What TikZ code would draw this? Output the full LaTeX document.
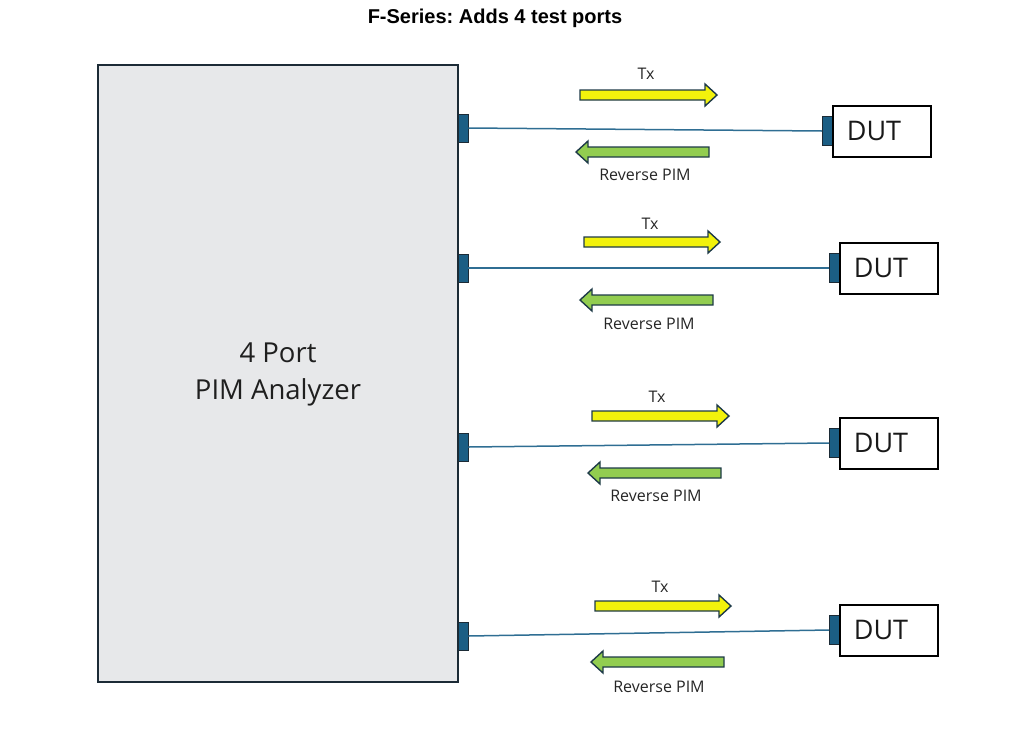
\documentclass[tikz,border=0pt]{standalone}
\usepackage{fontspec}
\setmainfont{Liberation Sans}
\newfontfamily\bodyfont{Open Sans}
\frenchspacing
\definecolor{boxgray}{HTML}{E7E8EA}
\definecolor{edge}{HTML}{1C2B36}
\definecolor{portblue}{HTML}{1B5E84}
\definecolor{cable}{HTML}{2F6E93}
\definecolor{txyellow}{HTML}{F2F20C}
\definecolor{revgreen}{HTML}{92CD50}
\definecolor{arredge}{HTML}{1E3A48}
\tikzset{
  analyzer/.style={draw=edge, fill=boxgray, line width=1.8pt},
  port/.style={draw=edge, fill=portblue, line width=0.8pt},
  dutbox/.style={draw=black, fill=white, line width=2pt},
  cableline/.style={draw=cable, line width=1.5pt},
  fatarrow/.style={draw=arredge, line width=1.4pt, line join=miter},
  small/.style={font=\bodyfont\fontsize{16}{18}\selectfont, text=black!85},
}
% right-pointing arrow: tail x, tip x, centre y
\newcommand{\rarrow}[4]{%
  \path[fatarrow, fill=#4] (#1,#3-5) -- (#2-12,#3-5) -- (#2-12,#3-11) -- (#2,#3) -- (#2-12,#3+11) -- (#2-12,#3+5) -- (#1,#3+5) -- cycle;}
\newcommand{\larrow}[4]{%
  \path[fatarrow, fill=#4] (#1,#3-5) -- (#2+12,#3-5) -- (#2+12,#3-11) -- (#2,#3) -- (#2+12,#3+11) -- (#2+12,#3+5) -- (#1,#3+5) -- cycle;}
\begin{document}
\begin{tikzpicture}[x=1pt,y=-1pt]
\useasboundingbox (0,0) rectangle (1024,750);
\node (title) at (495,18) {\fontsize{20}{23}\selectfont\bfseries F-Series: Adds 4 test ports};
% analyzer
\path[analyzer] (98,65) rectangle (458,682);
\node (ana) [align=center, font=\bodyfont\fontsize{27.5}{37}\selectfont, text=black!88] at (278,374) {4 Port\\PIM Analyzer};
% ports on analyzer
\foreach \n/\y in {1/128,2/268,3/447,4/636}{
  \node (p\n) [port, minimum width=10pt, minimum height=28pt, inner sep=0pt] at (463,\y) {};
}
% DUTs
\foreach \n/\xp/\y in {1/822/131,2/829/268,3/829/443,4/829/630}{
  \node (dp\n) [port, minimum width=10pt, minimum height=29pt, inner sep=0pt, anchor=west] at (\xp,\y) {};
  \node (d\n) [dutbox, minimum width=98pt, minimum height=51pt, inner sep=0pt, anchor=west] at (\xp+10,\y) {};
  \node (dt\n) at ([xshift=-8pt]d\n.center) [font=\bodyfont\fontsize{27}{30}\selectfont, text=black!90] {DUT};
}
% cables
\draw[cableline] (p1.east) -- (dp1.west);
\draw[cableline] (p2.east) -- (dp2.west);
\draw[cableline] (p3.east) -- (dp3.west);
\draw[cableline] (p4.east) -- (dp4.west);
% arrows
\rarrow{580}{717}{95}{txyellow}
\larrow{709}{576}{152}{revgreen}
\rarrow{584}{720}{242}{txyellow}
\larrow{713}{580}{300}{revgreen}
\rarrow{592}{729}{416}{txyellow}
\larrow{721}{588}{473}{revgreen}
\rarrow{595}{731}{606}{txyellow}
\larrow{724}{591}{662}{revgreen}
% labels
\node (tx1) [small] at (646,74) {Tx};
\node (rv1) [small] at (645,175) {Reverse PIM};
\node (tx2) [small] at (650,224) {Tx};
\node (rv2) [small] at (649,324) {Reverse PIM};
\node (tx3) [small] at (657,397) {Tx};
\node (rv3) [small] at (656,496) {Reverse PIM};
\node (tx4) [small] at (660,587) {Tx};
\node (rv4) [small] at (659,687) {Reverse PIM};
\end{tikzpicture}
\end{document}
